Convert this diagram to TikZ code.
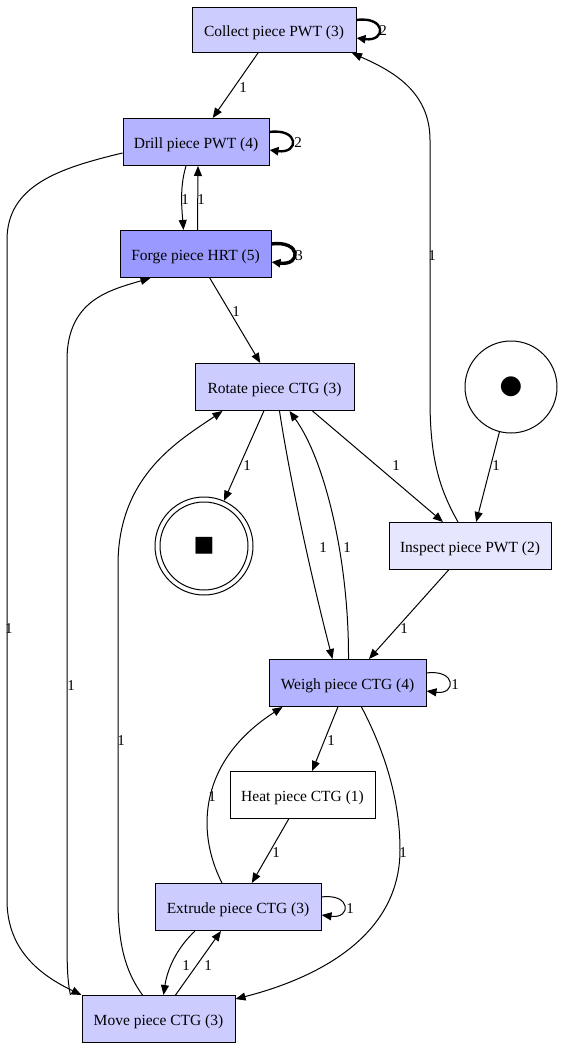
\documentclass[tikz,border=0pt]{standalone}
\usepackage{fontspec}
\setmainfont{Liberation Serif}
\newfontfamily\symfont{DejaVu Sans}
\usetikzlibrary{arrows.meta}
\definecolor{cA}{HTML}{CCCCFF}
\definecolor{cB}{HTML}{B3B3FF}
\definecolor{cC}{HTML}{9999FF}
\definecolor{cD}{HTML}{E6E6FF}
\begin{document}
\begin{tikzpicture}[x=1pt,y=-1pt,
  trans/.style={draw=black,line width=1pt,rectangle,inner sep=0pt,minimum height=47pt,text height=13.5pt,text depth=0.5pt,font=\fontsize{15.5}{17}\selectfont},
  arc/.style={draw=black,line width=1pt,-{Triangle[length=10pt,width=8pt]}},
  arcB/.style={draw=black,line width=2.4pt,-{Triangle[length=9pt,width=8pt]}},
  arcC/.style={draw=black,line width=3.4pt,-{Triangle[length=9pt,width=8pt]}},
  lbl/.style={font=\fontsize{15}{16}\selectfont,inner sep=0pt}]
\useasboundingbox (0,0) rectangle (563,1048);
% nodes
\node[trans,fill=cA,minimum width=164pt,minimum height=45pt] (collect) at (274,30) {Collect piece PWT (3)};
\node[trans,fill=cB,minimum width=146pt] (drill) at (196,142) {Drill piece PWT (4)};
\node[trans,fill=cC,minimum width=151pt] (forge) at (195.5,254) {Forge piece HRT (5)};
\node[trans,fill=cA,minimum width=159pt] (rotate) at (274.5,387) {Rotate piece CTG (3)};
\node[draw,line width=1pt,circle,minimum size=92pt,inner sep=0pt] (start) at (511,387) {\symfont\fontsize{26}{26}\selectfont ●};
\node[draw,line width=1pt,circle,minimum size=98pt,inner sep=0pt] (end) at (204,546) {\symfont\fontsize{22}{22}\selectfont ■};
\draw[line width=1pt] (end.center) circle (44pt);
\node[trans,fill=cD,minimum width=162pt] (inspect) at (470,546) {Inspect piece PWT (2)};
\node[trans,fill=cB,minimum width=157pt] (weigh) at (347.5,683) {Weigh piece CTG (4)};
\node[trans,fill=white,minimum width=145pt] (heat) at (302.5,795) {Heat piece CTG (1)};
\node[trans,fill=cA,minimum width=166pt] (extrude) at (238,907) {Extrude piece CTG (3)};
\node[trans,fill=cA,minimum width=153pt] (move) at (158.5,1019) {Move piece CTG (3)};
% arcs
\draw[arc] (collect) -- (drill) node[lbl,at={(243,88)}] {1};
\draw[arcB] ([yshift=10pt]collect.east) .. controls +(30pt,4pt) and +(30pt,-4pt) .. ([yshift=-8pt]collect.east) node[lbl,at={(383,31)}] {2};
\draw[arcB] ([yshift=10pt]drill.east) .. controls +(30pt,4pt) and +(30pt,-4pt) .. ([yshift=-8pt]drill.east) node[lbl,at={(298,143)}] {2};
\draw[arcC] ([yshift=10pt]forge.east) .. controls +(30pt,4pt) and +(30pt,-4pt) .. ([yshift=-8pt]forge.east) node[lbl,at={(299,256)}] {3};
\draw[arc] ([xshift=-10pt]drill.south) .. controls +(-6pt,-20pt) and +(-2pt,25pt) .. ([xshift=-12pt]forge.north) node[lbl,at={(185,200)}] {1};
\draw[arc] ([xshift=2pt]forge.north) -- ([xshift=2pt]drill.south) node[lbl,at={(201,200)}] {1};
\draw[arc] (forge) -- (rotate) node[lbl,at={(236,312)}] {1};
\draw[arc] ([yshift=-11pt]drill.west) .. controls (60,168) and (7,185) .. (7,240) -- (7,900) .. controls (7,950) and (40,975) .. (move.north west) node[lbl,at={(9,629)}] {1};
\draw[arc] ([xshift=-88pt]move.north) .. controls (67,980) and (67,960) .. (67,930) -- (67,360) .. controls (67,300) and (110,290) .. ([xshift=-45pt]forge.south) node[lbl,at={(71,686)}] {1};
\draw[arc] ([xshift=-16pt]move.north) .. controls (128,975) and (118,950) .. (118,900) -- (118,565) .. controls (118,475) and (180,440) .. ([xshift=-52pt]rotate.south) node[lbl,at={(121,741)}] {1};
\draw[arc] (rotate) -- (end) node[lbl,at={(247,466)}] {1};
\draw[arc] ([xshift=5pt]rotate.south) .. controls (290,480) and (312,580) .. ([xshift=-15pt]weigh.north) node[lbl,at={(323,548)}] {1};
\draw[arc] ([xshift=1pt]weigh.north) .. controls (349,560) and (325,460) .. ([xshift=15pt]rotate.south) node[lbl,at={(347,548)}] {1};
\draw[arc] ([xshift=38pt]rotate.south) -- ([xshift=-27pt]inspect.north) node[lbl,at={(396,466)}] {1};
\draw[arc] ([xshift=-12pt]inspect.north) .. controls (440,490) and (430,460) .. (430,400) -- (430,140) .. controls (430,90) and (390,70) .. ([xshift=78pt]collect.south) node[lbl,at={(432,256)}] {1};
\draw[arc] (start) -- (inspect) node[lbl,at={(496,466)}] {1};
\draw[arc] (inspect) -- (weigh) node[lbl,at={(404,629)}] {1};
\draw[arc] ([yshift=10pt]weigh.east) .. controls +(30pt,4pt) and +(30pt,-4pt) .. ([yshift=-8pt]weigh.east) node[lbl,at={(455,685)}] {1};
\draw[arc] (weigh) -- (heat) node[lbl,at={(331,741)}] {1};
\draw[arc] ([xshift=14pt]weigh.south) .. controls (385,752) and (400,800) .. (400,850) .. controls (400,940) and (310,980) .. ([yshift=20pt]move.east) node[lbl,at={(403,853)}] {1};
\draw[arc] (heat) -- (extrude) node[lbl,at={(276,853)}] {1};
\draw[arc] ([xshift=-16pt]extrude.north) .. controls (195,830) and (200,760) .. ([xshift=-65pt]weigh.south) node[lbl,at={(212,797)}] {1};
\draw[arc] ([yshift=10pt]extrude.east) .. controls +(30pt,4pt) and +(30pt,-4pt) .. ([yshift=-8pt]extrude.east) node[lbl,at={(350,909)}] {1};
\draw[arc] ([xshift=-43pt]extrude.south) .. controls (180,945) and (168,965) .. ([xshift=5pt]move.north) node[lbl,at={(186,966)}] {1};
\draw[arc] (move) -- (extrude) node[lbl,at={(208,966)}] {1};
\end{tikzpicture}
\end{document}
